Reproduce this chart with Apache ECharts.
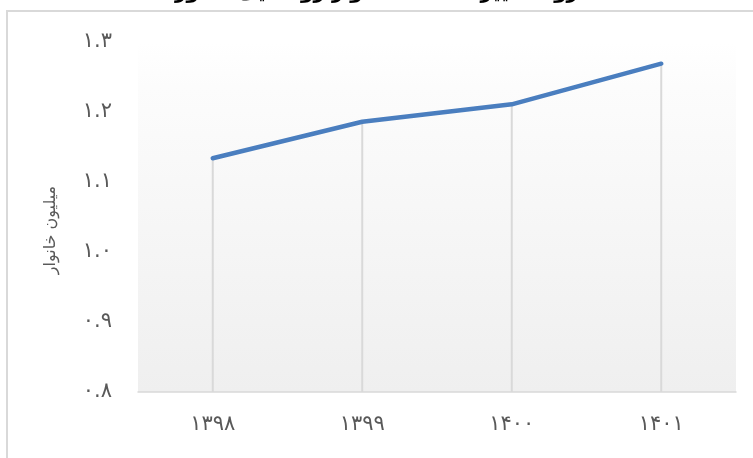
<!DOCTYPE html>
<html>
<head>
<meta charset="utf-8">
<script src="https://cdn.jsdelivr.net/npm/echarts@6/dist/echarts.min.js"></script>
<style>
html,body{margin:0;padding:0;background:#fff;}
#chart{width:753px;height:458px;}
</style>
</head>
<body>
<div id="chart"></div>
<script>
var titleText = 'روند تغییرات تعداد خانوار روستایی کشور';
var yAxisName = 'میلیون خانوار';
var categories = ['۱۳۹۸', '۱۳۹۹', '۱۴۰۰', '۱۴۰۱'];
var households = [1.134, 1.186, 1.211, 1.269];
var yMin = 0.8, yMax = 1.3, yStep = 0.1;

function toPersian(s) {
  var d = ['۰','۱','۲','۳','۴','۵','۶','۷','۸','۹'];
  return String(s).replace(/[0-9]/g, function (c) { return d[+c]; });
}

var chart = echarts.init(document.getElementById('chart'), null, {renderer: 'canvas'});
var FONT = 'DejaVu Sans';
chart.setOption({
  animation: false,
  backgroundColor: '#ffffff',
  title: {
    text: titleText,
    left: 'center',
    top: -22,
    textStyle: {fontFamily: FONT, fontSize: 20, fontWeight: 'bold', color: '#000'}
  },
  graphic: [{
    type: 'rect',
    shape: {x: 7, y: 11, width: 900, height: 600},
    style: {fill: null, stroke: '#d9d9d9', lineWidth: 2},
    z: -1
  }],
  grid: {
    left: 138, right: 17, top: 42, bottom: 66,
    show: true,
    borderWidth: 0,
    backgroundColor: new echarts.graphic.LinearGradient(0, 0, 0, 1, [
      {offset: 0, color: '#ffffff'},
      {offset: 0.13, color: '#fcfcfc'},
      {offset: 1, color: '#efefef'}
    ])
  },
  xAxis: {
    type: 'category',
    data: categories,
    boundaryGap: true,
    axisLine: {lineStyle: {color: '#d9d9d9', width: 1.5}},
    axisTick: {show: false},
    splitLine: {show: false},
    axisLabel: {fontFamily: FONT, fontSize: 21, color: '#595959', margin: 22}
  },
  yAxis: {
    type: 'value',
    min: yMin, max: yMax, interval: yStep,
    name: yAxisName,
    nameLocation: 'middle',
    nameGap: 79,
    nameTextStyle: {fontFamily: FONT, fontSize: 16, color: '#595959', padding: [0, 0, 0, -26]},
    axisLine: {show: false},
    axisTick: {show: false},
    splitLine: {show: false},
    axisLabel: {
      fontFamily: FONT, fontSize: 21, color: '#595959', margin: 26,
      padding: [0, 0, 10, 0],
      formatter: function (v) { return toPersian(v.toFixed(1)); }
    }
  },
  series: [{
    type: 'bar',
    data: households,
    barWidth: 2,
    itemStyle: {color: '#d9d9d9'},
    silent: true,
    z: 1
  }, {
    type: 'line',
    data: households,
    symbol: 'none',
    lineStyle: {color: '#4a7ebf', width: 4.5, cap: 'round', join: 'round'},
    z: 3
  }]
});
</script>
</body>
</html>
